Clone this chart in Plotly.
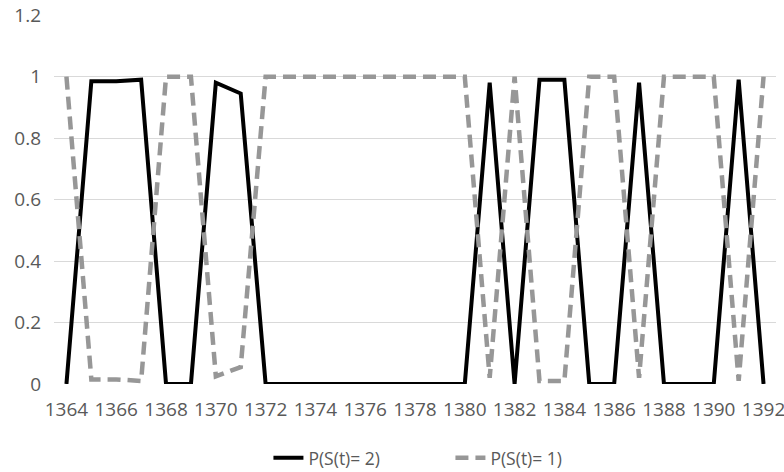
import plotly.graph_objects as go

years = list(range(1364, 1393))
p_s2 = [0, 0.985, 0.985, 0.99, 0, 0, 0.98, 0.945, 0, 0, 0, 0, 0, 0, 0, 0, 0,
        0.98, 0, 0.99, 0.99, 0, 0, 0.98, 0, 0, 0, 0.99, 0]
p_s1 = [1, 0.015, 0.015, 0.01, 1, 1, 0.025, 0.055, 1, 1, 1, 1, 1, 1, 1, 1, 1,
        0.02, 1, 0.01, 0.01, 1, 1, 0.02, 1, 1, 1, 0.01, 1]
x_ticks = list(range(1364, 1393, 2))
y_ticks = [0, 0.2, 0.4, 0.6, 0.8, 1, 1.2]
y_labels = ["0", "0.2", "0.4", "0.6", "0.8", "1", "1.2"]

fig = go.Figure()
fig.add_trace(go.Scatter(x=years, y=p_s2, mode="lines", name="P(S(t)= 2)",
                         line=dict(color="#000000", width=4)))
fig.add_trace(go.Scatter(x=years, y=p_s1, mode="lines", name="P(S(t)= 1)",
                         line=dict(color="#979797", width=4.5, dash="13px,7px")))

font_color = "#595959"
fs = 19
fig.update_layout(
    width=784, height=472,
    margin=dict(l=54, r=8, t=15, b=88, autoexpand=False),
    paper_bgcolor="white", plot_bgcolor="white",
    font=dict(family="Open Sans", size=fs, color=font_color),
    showlegend=True,
    legend=dict(orientation="h", x=0.297, xanchor="left", y=-0.2, yanchor="middle",
                font=dict(size=17.5, color=font_color), entrywidth=137),
    xaxis=dict(range=[1363.5, 1392.5], tickvals=x_ticks, showgrid=False, automargin=False,
               zeroline=False, showline=False, ticks="", ticklabelstandoff=12,
               ticklabeloverflow="allow",
               tickfont=dict(size=fs, color=font_color)),
    yaxis=dict(range=[0, 1.2005], tickvals=y_ticks, ticktext=y_labels, showgrid=True,
               automargin=False,
               gridcolor="#d9d9d9", gridwidth=1, zeroline=False, showline=False,
               ticks="", ticklabelstandoff=12, tickfont=dict(size=fs, color=font_color)),
)
fig.write_html("out.html", config={"displayModeBar": False},
               post_script="document.body.style.margin='0';")
